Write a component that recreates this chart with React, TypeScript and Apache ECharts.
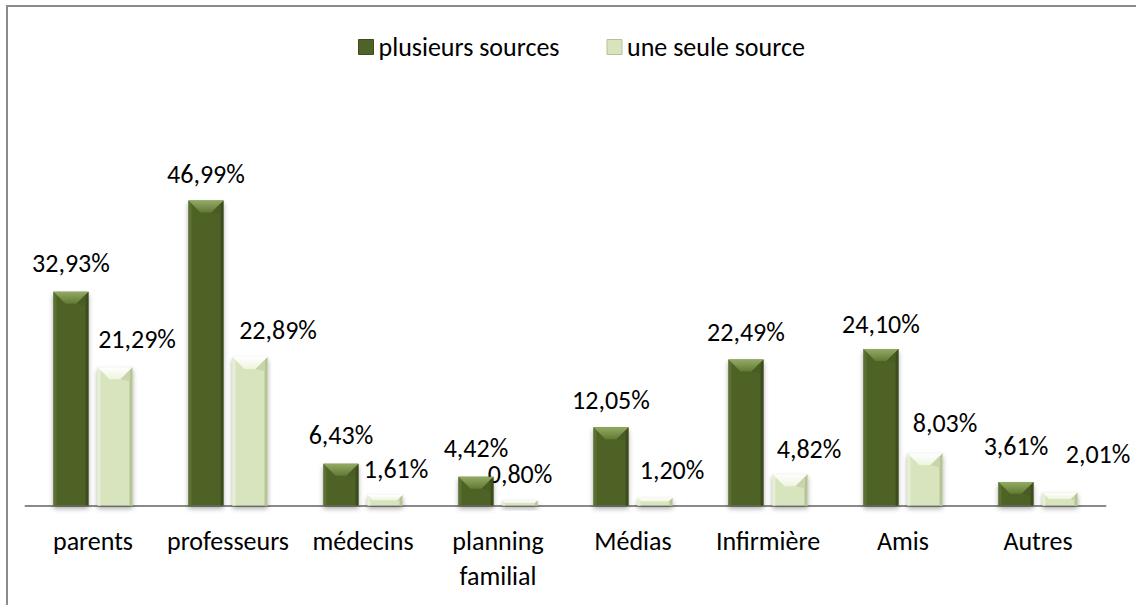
import React, { useEffect, useRef } from "react";
import * as echarts from "echarts";

const categories = ["parents", "professeurs", "médecins", "planning\nfamilial", "Médias", "Infirmière", "Amis", "Autres"];
const seriesNames = ["plusieurs sources", "une seule source"];
const plusieursSources = [32.93, 46.99, 6.43, 4.42, 12.05, 22.49, 24.1, 3.61];
const uneSeuleSource = [21.29, 22.89, 1.61, 0.8, 1.2, 4.82, 8.03, 2.01];

// label nudges (layout only)
const darkLabelShift = [[0, -1], [0, 1], [0, -1], [0, -1], [0, 0], [0, 0], [0, 2], [0, -9]];
const lightLabelShift = [[22, -1], [28, 1], [11, 1], [0, 1], [17, 0], [19, 2], [20, -3], [38, -11]];

const FONT = 'Carlito, Calibri, "Open Sans", sans-serif';
const FS = 26;
const fmt = (v: number) => v.toFixed(2).replace(".", ",") + "%";

const DARK = "#4F6228";
const LIGHT = "#D7E4BD";
const BAR_W = 35;
const HALF_OFF = 22;

function bevel(side: number, colors: any) {
  return (params: any, api: any) => {
    const idx = api.value(0);
    const val = api.value(1);
    const c = api.coord([idx, val]);
    const b = api.coord([idx, 0]);
    const xc = c[0] + side * HALF_OFF;
    const x0 = xc - BAR_W / 2;
    const x1 = xc + BAR_W / 2;
    const top = c[1];
    const bot = b[1];
    const h = bot - top;
    const bh = Math.min(12, h / 2);
    const sw = Math.min(3, h / 2);
    return {
      type: "group",
      silent: true,
      children: [
        {
          type: "polygon",
          shape: { points: [[x0, top], [x0 + sw, top + sw], [x0 + sw, bot], [x0, bot]] },
          style: { fill: colors.left },
        },
        {
          type: "polygon",
          shape: { points: [[x1, top], [x1 - sw, top + sw], [x1 - sw, bot], [x1, bot]] },
          style: { fill: colors.right },
        },
        {
          type: "polygon",
          shape: { points: [[x0, top], [x1, top], [x1 - bh, top + bh], [x0 + bh, top + bh]] },
          style: {
            fill: new echarts.graphic.LinearGradient(0, 0, 0, 1, [
              { offset: 0, color: colors.top0 },
              { offset: 1, color: colors.top1 },
            ]),
          },
        },
        {
          type: "polygon",
          shape: { points: [[x1, top], [x1 - bh, top + bh], [x1 - sw, top + bh + 2], [x1 - sw, top + sw]] },
          style: { fill: colors.topRight },
        },
      ],
    };
  };
}

export default function App() {
  const ref = useRef<HTMLDivElement>(null);
  useEffect(() => {
    if (!ref.current) return;
    const chart = echarts.init(ref.current, undefined, { renderer: "svg" });
    const labelBase = {
      show: true,
      position: "top",
      distance: 14.5,
      fontFamily: FONT,
      fontSize: FS,
      color: "#000",
      formatter: (p: any) => fmt(p.value),
    };
    chart.setOption({
      animation: false,
      backgroundColor: "#fff",
      textStyle: { fontFamily: FONT },
      graphic: [
        {
          type: "rect",
          z: -10,
          silent: true,
          shape: { x: 7, y: 6, width: 1400, height: 900 },
          style: { fill: "none", stroke: "#8a8a8a", lineWidth: 2 },
        },
      ],
      legend: {
        data: [
          { name: seriesNames[0], itemStyle: { borderColor: "#3D4C1E", borderWidth: 1 } },
          { name: seriesNames[1], itemStyle: { borderColor: "#B5C395", borderWidth: 1 } },
        ],
        left: 353,
        top: 29,
        itemWidth: 15,
        itemHeight: 15,
        itemGap: 47,
        icon: "rect",
        textStyle: { fontFamily: FONT, fontSize: FS, color: "#000" },
      },
      grid: { left: 25.5, right: 30.5, top: 116, bottom: 99.5, containLabel: false },
      xAxis: {
        type: "category",
        data: categories,
        axisTick: { show: false },
        axisLine: { lineStyle: { color: "#8a8a8a", width: 2 } },
        axisLabel: {
          interval: 0,
          margin: 18,
          fontFamily: FONT,
          fontSize: FS,
          color: "#000",
          lineHeight: 35,
        },
      },
      yAxis: {
        type: "value",
        min: 0,
        max: 60,
        show: false,
        splitLine: { show: false },
      },
      series: [
        {
          name: seriesNames[0],
          type: "bar",
          barWidth: BAR_W,
          barGap: "26%",
          data: plusieursSources.map((v, i) => ({
            value: v,
            label: { offset: darkLabelShift[i] },
          })),
          itemStyle: {
            color: DARK,
            shadowColor: "rgba(0,0,0,0.35)",
            shadowBlur: 5,
            shadowOffsetY: 3,
          },
          label: labelBase,
          z: 2,
        },
        {
          name: seriesNames[1],
          type: "bar",
          barWidth: BAR_W,
          barGap: "26%",
          data: uneSeuleSource.map((v, i) => ({
            value: v,
            label: { offset: lightLabelShift[i] },
          })),
          itemStyle: {
            color: LIGHT,
            shadowColor: "rgba(0,0,0,0.35)",
            shadowBlur: 5,
            shadowOffsetY: 3,
          },
          label: labelBase,
          z: 2,
        },
        {
          type: "custom",
          silent: true,
          z: 3,
          data: plusieursSources.map((v, i) => [i, v]),
          renderItem: bevel(-1, {
            left: "#5B7131",
            right: "#3D4C1E",
            top0: "#93AA63",
            top1: "#617A33",
            topRight: "#4A5C25",
          }),
        },
        {
          type: "custom",
          silent: true,
          z: 3,
          data: uneSeuleSource.map((v, i) => [i, v]),
          renderItem: bevel(1, {
            left: "#E6EED4",
            right: "#B5C395",
            top0: "#FFFFFF",
            top1: "#EEF4DF",
            topRight: "#C8D5AA",
          }),
        },
      ],
    });
    return () => chart.dispose();
  }, []);
  return (
    <div
      ref={ref}
      style={{ position: "fixed", left: 0, top: 0, width: 1136, height: 605, background: "#fff" }}
    />
  );
}
